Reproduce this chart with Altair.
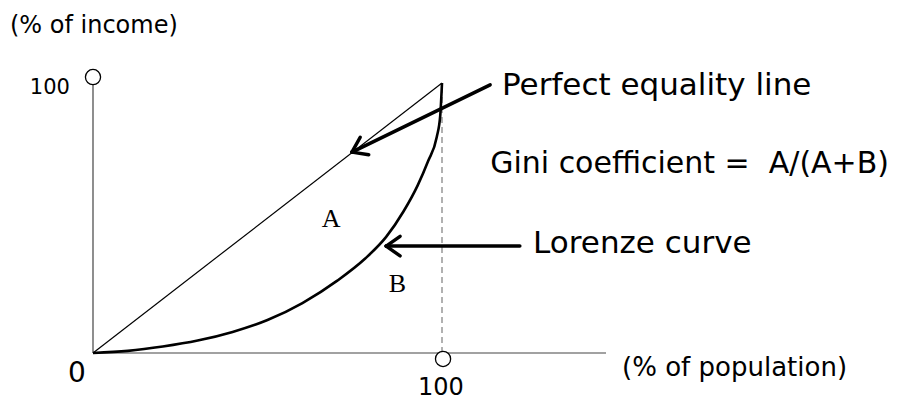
import math
import altair as alt
import pandas as pd

# ---- data (in % units) ----
lorenz_x = [0, 10, 20, 30, 40, 50, 60, 70, 78, 84, 89, 93, 96, 98.5, 99.5, 100]
lorenz_y = [0, 0.8, 2.4, 4.6, 7.8, 12.2, 18.5, 26.8, 35, 43, 52.5, 62, 71, 80, 88, 100]
equality_x = [0, 100]
equality_y = [0, 100]

marker_x = [0, 100.3]
marker_y = [102.2, -2.2]

label_text = ["(% of income)", "100", "0", "100", "(% of population)",
              "Perfect equality line", "Gini coefficient =\u00a0 A/(A+B)", "Lorenze curve"]
label_x = [-23.8, -6.6, -4.6, 99.7, 151.6, 117.2, 113.8, 126.1]
label_y = [118.5, 95.9, -10.7, -15.6, -8.5, 95.6, 66.7, 37.0]
label_size = [24, 21, 28, 24, 26, 31, 30, 31]
label_align = ["left", "right", "center", "center", "left", "left", "left", "left"]

area_text = ["A", "B"]
area_x = [68.2, 87.2]
area_y = [46.7, 22.6]

# arrows: start -> tip
arrow_sx = [113.8, 122.3]
arrow_sy = [99.3, 39.6]
arrow_tx = [74.2, 84.0]
arrow_ty = [74.4, 39.6]

# ---- scales ----
W, H = 890, 392
PX, PY = 3.49, 2.7
XD = [-85 / PX, -85 / PX + W / PX]
YD = [-(H - 345) / PY, -(H - 345) / PY + H / PY]
xs = alt.Scale(domain=XD, nice=False, zero=False)
ys = alt.Scale(domain=YD, nice=False, zero=False)

def X(f="x"):
    return alt.X(f"{f}:Q", scale=xs, axis=None)

def Y(f="y"):
    return alt.Y(f"{f}:Q", scale=ys, axis=None)

# segments
segs = []
segs.append(dict(x=0, y=0, x2=147, y2=0, kind="axis"))
segs.append(dict(x=0, y=0, x2=0, y2=99.5, kind="axis"))
for sx, sy, tx, ty in zip(arrow_sx, arrow_sy, arrow_tx, arrow_ty):
    segs.append(dict(x=sx, y=sy, x2=tx, y2=ty, kind="arrow"))
    dx = (sx - tx) * PX
    dy = -(sy - ty) * PY
    n = math.hypot(dx, dy)
    ux, uy = dx / n, dy / n
    for a in (math.radians(35), math.radians(-35)):
        rx = ux * math.cos(a) - uy * math.sin(a)
        ry = ux * math.sin(a) + uy * math.cos(a)
        bx = tx + 17 * rx / PX
        by = ty - 17 * ry / PY
        segs.append(dict(x=tx, y=ty, x2=bx, y2=by, kind="arrow"))
seg_df = pd.DataFrame(segs)

axis_layer = alt.Chart(seg_df[seg_df.kind == "axis"]).mark_rule(
    color="#444444", strokeWidth=1.2
).encode(x=X(), y=Y(), x2="x2:Q", y2="y2:Q")

arrow_layer = alt.Chart(seg_df[seg_df.kind == "arrow"]).mark_rule(
    color="black", strokeWidth=3.5, strokeCap="round"
).encode(x=X(), y=Y(), x2="x2:Q", y2="y2:Q")

dash_layer = alt.Chart(pd.DataFrame({"x": [100], "y": [0], "y2": [100]})).mark_rule(
    color="#888888", strokeWidth=1.3, strokeDash=[6, 4]
).encode(x=X(), y=Y(), y2="y2:Q")

eq_layer = alt.Chart(pd.DataFrame({"x": equality_x, "y": equality_y})).mark_line(
    color="black", strokeWidth=1.2
).encode(x=X(), y=Y())

lor_layer = alt.Chart(pd.DataFrame({"x": lorenz_x, "y": lorenz_y})).mark_line(
    color="black", strokeWidth=2.6, interpolate="monotone"
).encode(x=X(), y=Y())

circ_layer = alt.Chart(pd.DataFrame({"x": marker_x, "y": marker_y})).mark_point(
    shape="circle", filled=True, fill="white", stroke="black", strokeWidth=1.3,
    size=230, opacity=1
).encode(x=X(), y=Y())

lab_df = pd.DataFrame({"t": label_text, "x": label_x, "y": label_y,
                       "s": label_size, "a": label_align})
text_layers = []
for al in ["left", "center", "right"]:
    sub = lab_df[lab_df.a == al]
    for s in sorted(sub.s.unique()):
        part = sub[sub.s == s]
        text_layers.append(
            alt.Chart(part).mark_text(
                font="DejaVu Sans", fontSize=int(s), align=al, baseline="alphabetic",
                color="black"
            ).encode(x=X(), y=Y(), text="t:N")
        )

area_layer = alt.Chart(pd.DataFrame({"t": area_text, "x": area_x, "y": area_y})).mark_text(
    font="Liberation Serif", fontSize=26, align="center", baseline="alphabetic", color="black"
).encode(x=X(), y=Y(), text="t:N")

chart = alt.layer(
    axis_layer, dash_layer, eq_layer, lor_layer, circ_layer, arrow_layer, area_layer,
    *text_layers
).properties(
    width=W, height=H, padding=0, autosize=alt.AutoSizeParams(type="none")
).configure_view(stroke=None)

chart.save("out.html", embed_options={"renderer": "svg", "actions": False})
